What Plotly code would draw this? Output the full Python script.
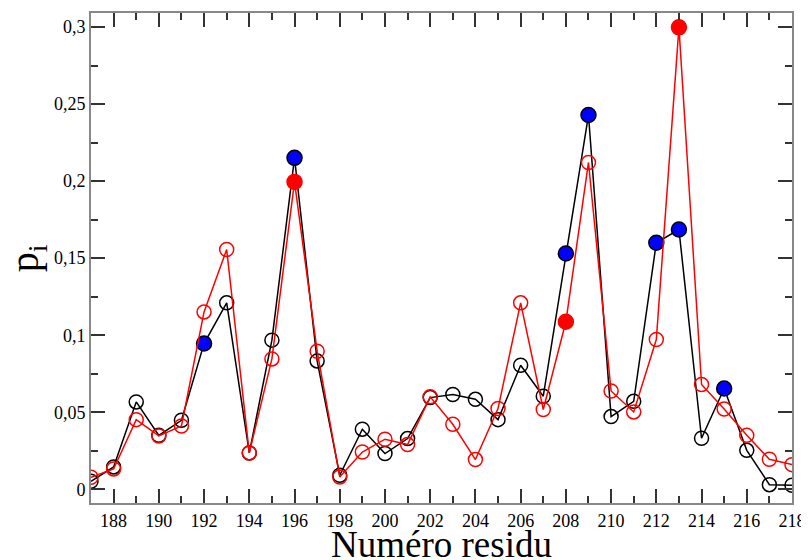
import plotly.graph_objects as go

residues = list(range(187, 219))
black_vals = [0.0052, 0.0145, 0.0567, 0.0350, 0.0448, 0.0946, 0.1210, 0.0236,
              0.0968, 0.2151, 0.0833, 0.0091, 0.0390, 0.0232, 0.0329, 0.0595,
              0.0615, 0.0584, 0.0452, 0.0805, 0.0604, 0.1530, 0.2429, 0.0472,
              0.0571, 0.1600, 0.1686, 0.0331, 0.0654, 0.0253, 0.0030, 0.0026]
red_vals = [0.0078, 0.0132, 0.0452, 0.0346, 0.0411, 0.1151, 0.1556, 0.0236,
            0.0846, 0.1995, 0.0896, 0.0080, 0.0242, 0.0325, 0.0290, 0.0600,
            0.0422, 0.0193, 0.0524, 0.1210, 0.0518, 0.1087, 0.2121, 0.0638,
            0.0502, 0.0972, 0.2998, 0.0680, 0.0521, 0.0350, 0.0195, 0.0160]
black_filled = [192, 196, 208, 209, 212, 213, 215]
red_filled = [196, 208, 213]

y_tickvals = [0, 0.05, 0.1, 0.15, 0.2, 0.25, 0.3]
y_ticktext = ["0", "0,05", "0,1", "0,15", "0,2", "0,25", "0,3"]
x_tickvals = list(range(188, 219, 2))
x_title = "Numéro residu"
y_title = "p<sub>i</sub>"

def marker_style(filled_set, line_color, fill_color):
    symbols = ["circle" if r in filled_set else "circle-open" for r in residues]
    colors = [fill_color if r in filled_set else line_color for r in residues]
    sizes = [15 if r in filled_set else 14 for r in residues]
    return dict(symbol=symbols, color=colors, size=sizes, opacity=1,
                line=dict(color=line_color, width=1.5))

fig = go.Figure()
fig.add_trace(go.Scatter(x=residues, y=black_vals, mode="lines+markers",
                         line=dict(color="black", width=1.5),
                         marker=marker_style(black_filled, "black", "#0000ff")))
fig.add_trace(go.Scatter(x=residues, y=red_vals, mode="lines+markers",
                         line=dict(color="#ff0000", width=1.5),
                         marker=marker_style(red_filled, "#ff0000", "#ff0000")))

axis_common = dict(showline=True, linecolor="#888888", linewidth=2, mirror="ticks",
                   ticks="inside", tickcolor="#333333", tickwidth=1.5, ticklen=14,
                   showgrid=False, zeroline=False, automargin=False,
                   ticklabeloverflow="allow",
                   tickfont=dict(family="Liberation Serif", size=18, color="black"))

# page body has an 8px margin, so the figure is offset by 8px; compensate
fig.update_layout(
    width=801, height=552, plot_bgcolor="white", paper_bgcolor="white",
    showlegend=False,
    margin=dict(l=83, r=17, t=5, b=57),
    xaxis=dict(range=[187, 218], tickvals=x_tickvals,
               minor=dict(ticks="inside", ticklen=7, dtick=1, tick0=187,
                          tickcolor="#333333", tickwidth=1.5),
               **axis_common),
    yaxis=dict(range=[-0.0089, 0.3091], tickvals=y_tickvals, ticktext=y_ticktext,
               minor=dict(ticks="inside", ticklen=7, dtick=0.025, tick0=0,
                          tickcolor="#333333", tickwidth=1.5),
               **axis_common),
    annotations=[
        dict(text=x_title, xref="paper", yref="paper", x=0.5, y=-0.084,
             xanchor="center", yanchor="middle", showarrow=False,
             font=dict(family="Liberation Serif", size=37, color="black")),
        dict(text=y_title, xref="paper", yref="paper", x=-0.091, y=0.50,
             xanchor="center", yanchor="middle", showarrow=False, textangle=-90,
             font=dict(family="Liberation Serif", size=40, color="black")),
    ],
)

fig.write_html("out.html")
